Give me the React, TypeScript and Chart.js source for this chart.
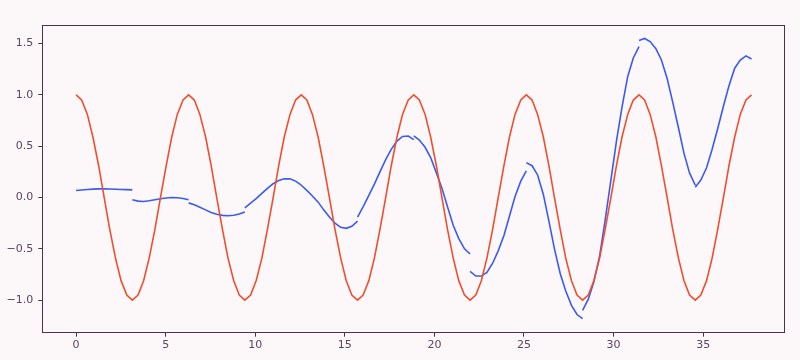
import React, { useEffect, useRef } from "react";
import { Chart, registerables } from "chart.js";

Chart.register(...registerables);

// x sample positions (step ~ pi/10, 0 .. 37.70)
const xValues = [
  0, 0.31, 0.63, 0.94, 1.26, 1.57, 1.88, 2.2, 2.51, 2.83,
  3.14, 3.46, 3.77, 4.08, 4.4, 4.71, 5.03, 5.34, 5.65, 5.97,
  6.28, 6.6, 6.91, 7.23, 7.54, 7.85, 8.17, 8.48, 8.8, 9.11,
  9.42, 9.74, 10.05, 10.37, 10.68, 11.0, 11.31, 11.62, 11.94, 12.25,
  12.57, 12.88, 13.19, 13.51, 13.82, 14.14, 14.45, 14.77, 15.08, 15.39,
  15.71, 16.02, 16.34, 16.65, 16.96, 17.28, 17.59, 17.91, 18.22, 18.54,
  18.85, 19.16, 19.48, 19.79, 20.11, 20.42, 20.73, 21.05, 21.36, 21.68,
  21.99, 22.31, 22.62, 22.93, 23.25, 23.56, 23.88, 24.19, 24.5, 24.82,
  25.13, 25.45, 25.76, 26.08, 26.39, 26.7, 27.02, 27.33, 27.65, 27.96,
  28.27, 28.59, 28.9, 29.22, 29.53, 29.85, 30.16, 30.47, 30.79, 31.1,
  31.42, 31.73, 32.04, 32.36, 32.67, 32.99, 33.3, 33.62, 33.93, 34.24,
  34.56, 34.87, 35.19, 35.5, 35.81, 36.13, 36.44, 36.76, 37.07, 37.39,
  37.7,
];

// red series values
const redValues = [
  1, 0.95, 0.81, 0.59, 0.31, 0, -0.31, -0.59, -0.81, -0.95,
  -1, -0.95, -0.81, -0.59, -0.31, 0, 0.31, 0.59, 0.81, 0.95,
  1, 0.95, 0.81, 0.59, 0.31, 0, -0.31, -0.59, -0.81, -0.95,
  -1, -0.95, -0.81, -0.59, -0.31, 0, 0.31, 0.59, 0.81, 0.95,
  1, 0.95, 0.81, 0.59, 0.31, 0, -0.31, -0.59, -0.81, -0.95,
  -1, -0.95, -0.81, -0.59, -0.31, 0, 0.31, 0.59, 0.81, 0.95,
  1, 0.95, 0.81, 0.59, 0.31, 0, -0.31, -0.59, -0.81, -0.95,
  -1, -0.95, -0.81, -0.59, -0.31, 0, 0.31, 0.59, 0.81, 0.95,
  1, 0.95, 0.81, 0.59, 0.31, 0, -0.31, -0.59, -0.81, -0.95,
  -1, -0.95, -0.81, -0.59, -0.31, 0, 0.31, 0.59, 0.81, 0.95,
  1, 0.95, 0.81, 0.59, 0.31, 0, -0.31, -0.59, -0.81, -0.95,
  -1, -0.95, -0.81, -0.59, -0.31, 0, 0.31, 0.59, 0.81, 0.95,
  1,
];

// blue series: 12 separate pieces, each spanning 11 consecutive x samples
const blueSegments = [
  [0.068, 0.074, 0.079, 0.082, 0.084, 0.084, 0.083, 0.081, 0.079, 0.077, 0.075],
  [-0.022, -0.035, -0.038, -0.032, -0.022, -0.012, -0.004, 0.0, -0.002, -0.01, -0.022],
  [-0.052, -0.07, -0.094, -0.12, -0.145, -0.163, -0.174, -0.177, -0.172, -0.16, -0.14],
  [-0.1, -0.055, -0.01, 0.04, 0.09, 0.135, 0.165, 0.183, 0.182, 0.16, 0.12],
  [0.12, 0.07, 0.015, -0.045, -0.12, -0.19, -0.25, -0.29, -0.3, -0.28, -0.23],
  [-0.19, -0.09, 0.02, 0.13, 0.25, 0.37, 0.47, 0.55, 0.595, 0.6, 0.565],
  [0.6, 0.56, 0.49, 0.39, 0.24, 0.09, -0.09, -0.27, -0.4, -0.5, -0.55],
  [-0.72, -0.765, -0.765, -0.73, -0.64, -0.52, -0.37, -0.18, 0.01, 0.16, 0.26],
  [0.34, 0.31, 0.22, 0.03, -0.23, -0.5, -0.74, -0.91, -1.05, -1.14, -1.18],
  [-1.1, -0.99, -0.82, -0.57, -0.22, 0.17, 0.55, 0.88, 1.18, 1.36, 1.47],
  [1.53, 1.55, 1.52, 1.45, 1.34, 1.16, 0.93, 0.68, 0.43, 0.24, 0.12],
  [0.1, 0.17, 0.29, 0.47, 0.67, 0.89, 1.09, 1.26, 1.34, 1.38, 1.35],
];

const xTicks = [0, 5, 10, 15, 20, 25, 30, 35];
const yTicks = [-1.0, -0.5, 0.0, 0.5, 1.0, 1.5];

const RED = "#ef4f2f";
const BLUE = "#3b5bef";
const AXIS = "#4e3048";
const LABEL = "#5a4660";
const BG = "#fcf7f9";

export default function App() {
  const ref = useRef<HTMLCanvasElement | null>(null);

  useEffect(() => {
    document.body.style.margin = "0";
    document.body.style.background = BG;
    const canvas = ref.current;
    if (!canvas) return;

    const redPoints = xValues.map((x, i) => ({ x, y: redValues[i] }));
    const bluePoints: { x: number; y: number | null }[] = [];
    blueSegments.forEach((seg, i) => {
      if (i > 0) bluePoints.push({ x: xValues[10 * i], y: null });
      seg.forEach((v, j) => bluePoints.push({ x: xValues[10 * i + j], y: v }));
    });

    const bgPlugin = {
      id: "bg",
      beforeDraw(chart: any) {
        const c = chart.ctx;
        c.save();
        c.fillStyle = BG;
        c.fillRect(0, 0, chart.width, chart.height);
        c.restore();
      },
    };
    const framePlugin = {
      id: "frame",
      afterDatasetsDraw(chart: any) {
        const { left, top, right, bottom } = chart.chartArea;
        const c = chart.ctx;
        c.save();
        c.strokeStyle = AXIS;
        c.lineWidth = 1;
        const l = Math.round(left) + 0.5;
        const t = Math.round(top) + 0.5;
        const r = Math.round(right) - 0.5;
        const b = Math.round(bottom) - 0.5;
        c.strokeRect(l, t, r - l, b - t);
        c.restore();
      },
    };

    const font = { family: "'DejaVu Sans', sans-serif", size: 11 };
    const fmtY = (v: number) => (v < 0 ? "\u2212" : "") + Math.abs(v).toFixed(1);
    const fmtX = (v: number) => (v < 0 ? "\u2212" : "") + String(Math.abs(v));

    const chart = new Chart(canvas, {
      type: "line",
      data: {
        datasets: [
          {
            data: redPoints as any,
            borderColor: RED,
            borderWidth: 1.6,
            pointRadius: 0,
            tension: 0,
            fill: false,
          },
          {
            data: bluePoints as any,
            borderColor: BLUE,
            borderWidth: 1.6,
            pointRadius: 0,
            tension: 0,
            fill: false,
            spanGaps: false,
          },
        ],
      },
      options: {
        responsive: false,
        animation: false,
        events: [],
        layout: { padding: { top: 24.5, right: 14.7, left: 0, bottom: 0 } },
        plugins: { legend: { display: false }, tooltip: { enabled: false } },
        scales: {
          x: {
            type: "linear",
            min: -1.885,
            max: 39.584,
            afterBuildTicks: (s: any) => {
              s.ticks = xTicks.map((v) => ({ value: v }));
            },
            afterFit: (s: any) => {
              s.height = 27.3;
            },
            grid: {
              drawOnChartArea: false,
              drawTicks: true,
              tickLength: 4,
              color: AXIS,
              tickColor: AXIS,
            },
            border: { display: false },
            ticks: {
              color: LABEL,
              font,
              padding: 2,
              maxRotation: 0,
              autoSkip: false,
              callback: (v: any) => fmtX(Number(v)),
            },
          },
          y: {
            type: "linear",
            min: -1.317,
            max: 1.686,
            afterBuildTicks: (s: any) => {
              s.ticks = yTicks.map((v) => ({ value: v }));
            },
            afterFit: (s: any) => {
              s.width = 42.3;
            },
            grid: {
              drawOnChartArea: false,
              drawTicks: true,
              tickLength: 4,
              color: AXIS,
              tickColor: AXIS,
            },
            border: { display: false },
            ticks: {
              color: LABEL,
              font,
              padding: 5,
              autoSkip: false,
              callback: (v: any) => fmtY(Number(v)),
            },
          },
        },
      },
      plugins: [bgPlugin, framePlugin],
    });

    return () => chart.destroy();
  }, []);

  return (
    <canvas
      ref={ref}
      width={800}
      height={360}
      style={{ display: "block", width: 800, height: 360 }}
    />
  );
}
